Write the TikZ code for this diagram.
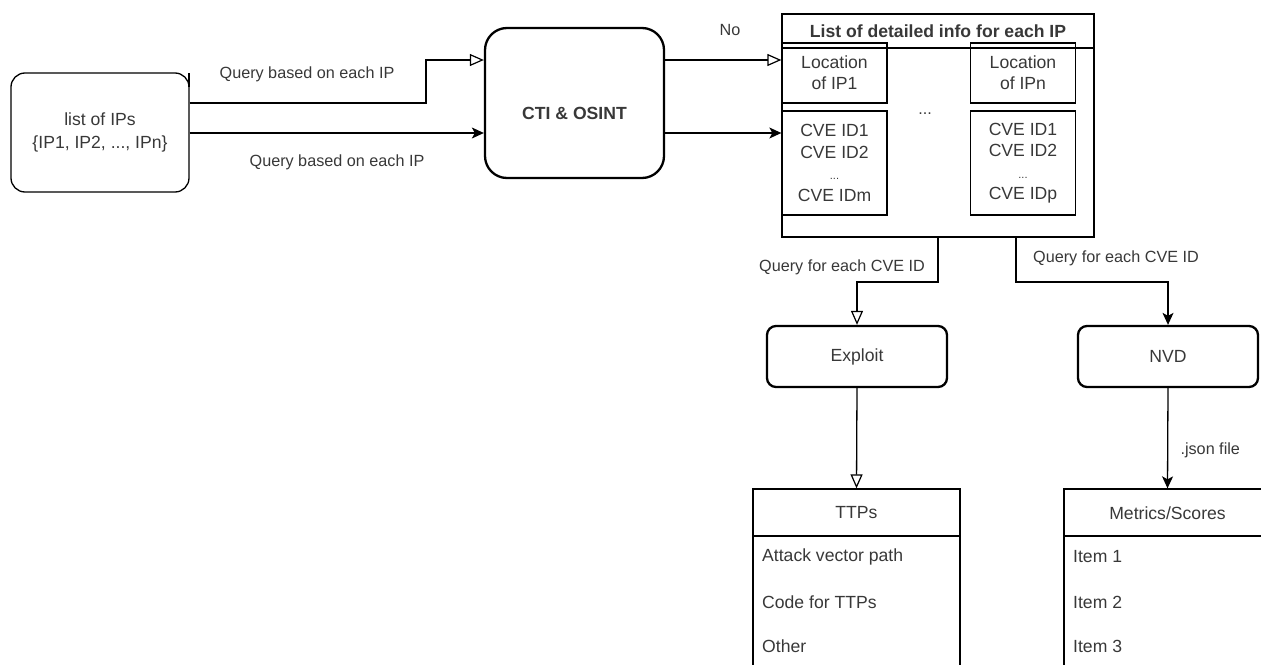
\documentclass[tikz,border=0pt]{standalone}
\usepackage{fontspec}
\setmainfont{Liberation Sans}
\usetikzlibrary{arrows.meta}

\begin{document}
\begin{tikzpicture}[x=1pt,y=-1pt,
  txt/.style={text=black!78},
  big/.style={txt,font=\fontsize{17.6}{21}\selectfont},
  small/.style={txt,font=\fontsize{16.2}{19}\selectfont},
  box/.style={draw=black,line width=1.3pt,inner sep=0pt,align=center,big},
  roundbox/.style={box,rounded corners=14pt},
  heavybox/.style={box,line width=2.3pt},
  openarrow/.style={line width=1.3pt,-{Triangle[open,length=14pt,width=12pt,line width=1.2pt]}},
  fullarrow/.style={line width=1.3pt,-{Stealth[length=12pt,width=11pt,inset=3pt]}},
  item/.style={big,anchor=west,inner sep=0pt}
]
\useasboundingbox (0,0) rectangle (1261,664);
\clip (0,0) rectangle (1261,664);

% source list
\node[roundbox,minimum width=178pt,minimum height=119pt,
      font=\fontsize{17.6}{23}\selectfont] (ips) at (100,132.5)
  {list of IPs\\\{IP1, IP2, ..., IPn\}};
\draw[line width=1.3pt] (189,73) -- (189,87);

% intelligence sources
\node[heavybox,rounded corners=22pt,minimum width=179pt,minimum height=150pt] (cti) at (574.5,103) {};
\node[big,font=\fontsize{17.6}{21}\selectfont\bfseries] (ctitext) at (574.5,113) {CTI \& OSINT};

% detailed info container
\node[box,line width=1.5pt,minimum width=312pt,minimum height=223pt] (list) at (938,125.5) {};
\draw[line width=1.5pt] (list.west |- 0,48) -- (list.east |- 0,48);
\node[big,font=\fontsize{17.6}{21}\selectfont\bfseries] (title) at (938,31) {List of detailed info for each IP};
\node[box,minimum width=105pt,minimum height=60pt,font=\fontsize{17.6}{21}\selectfont] (loc1) at (834.5,73) {Location\\of IP1};
\node[box,minimum width=105pt,minimum height=60pt,font=\fontsize{17.6}{21}\selectfont] (locn) at (1023,73) {Location\\of IPn};
\node[box,minimum width=105pt,minimum height=104pt,font=\fontsize{17.6}{21.5}\selectfont] (cve1) at (834.5,163)
  {CVE ID1\\CVE ID2\\{\fontsize{11}{12}\selectfont ...}\\CVE IDm};
\node[box,minimum width=105pt,minimum height=104pt,font=\fontsize{17.6}{21.5}\selectfont] (cven) at (1023,163)
  {CVE ID1\\CVE ID2\\{\fontsize{11}{12}\selectfont ...}\\CVE IDp};
\node[small] (dots) at (925,114) {...};

% queries into the intelligence sources
\coordinate (bend1) at (426,103);
\coordinate (bend2) at (426,60);
\draw[openarrow] (ips.east |- bend1) -- (bend1) -- (bend2) -- (cti.west |- bend2);
\draw[fullarrow] (ips.east |- 0,133) -- (cti.west |- 0,133);
\node[small] (q1) at (307,74) {Query based on each IP};
\node[small] (q2) at (337,162) {Query based on each IP};

% results into the container
\draw[openarrow] (cti.east |- 0,60) -- (loc1.west |- 0,60);
\draw[fullarrow] (cti.east |- 0,133) -- (cve1.west |- 0,133);
\node[small] (no) at (730,30) {No};

% per-CVE lookups
\node[heavybox,rounded corners=9pt,minimum width=180pt,minimum height=61pt] (exploit) at (857,356.5) {Exploit};
\node[heavybox,rounded corners=9pt,minimum width=180pt,minimum height=61pt] (nvd) at (1168,356.5) {NVD};
\draw[openarrow] (list.south -| 938,0) -- (938,282) -| (exploit.north);
\draw[fullarrow] (list.south -| 1016,0) -- (1016,282) -| (nvd.north);
\node[small] (q3) at (842,267) {Query for each CVE ID};
\node[small] (q4) at (1116,258) {Query for each CVE ID};

% result tables
\node[box,minimum width=207pt,minimum height=200pt] (ttps) at (856.5,589) {};
\draw[line width=1.3pt] (ttps.west |- 0,536) -- (ttps.east |- 0,536);
\node[big] (ttpsh) at (856.5,513) {TTPs};
\node[item] (t1) at (762,557) {Attack vector path};
\node[item] (t2) at (762,602) {Code for TTPs};
\node[item] (t3) at (762,646) {Other};

\node[box,minimum width=207pt,minimum height=200pt] (metrics) at (1167.5,589) {};
\draw[line width=1.3pt] (metrics.west |- 0,536) -- (metrics.east |- 0,536);
\node[big] (metricsh) at (1167.5,513) {Metrics/Scores};
\node[item] (m1) at (1073,557) {Item 1};
\node[item] (m2) at (1073,602) {Item 2};
\node[item] (m3) at (1073,646) {Item 3};

\draw[openarrow] (exploit.south) -- (ttps.north);
\draw[fullarrow] (nvd.south) -- (metrics.north);
\node[small,anchor=west] (json) at (1177,450) {.json file};
\end{tikzpicture}
\end{document}
